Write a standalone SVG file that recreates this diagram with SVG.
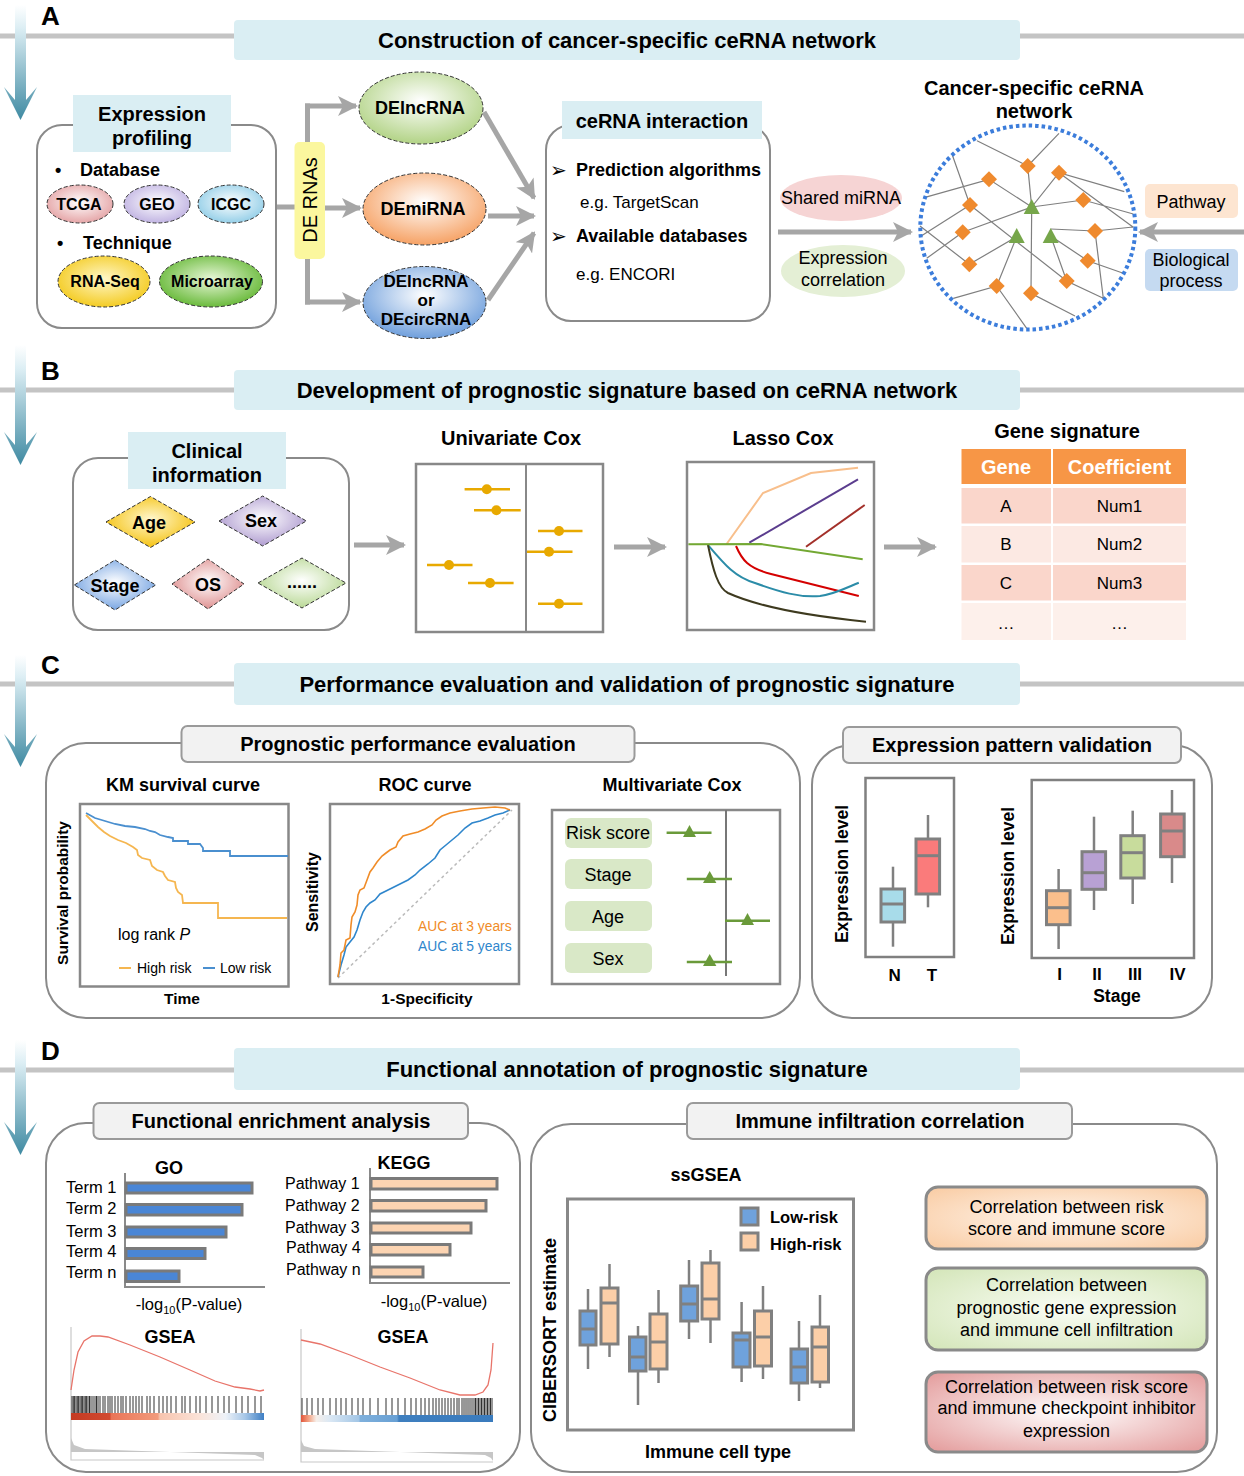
<svg xmlns="http://www.w3.org/2000/svg" width="1244" height="1476" viewBox="0 0 1244 1476">
<defs>
<style>
text{font-family:"Liberation Sans",Arial,"DejaVu Sans",sans-serif;fill:#000}
.b{font-weight:bold}
.m{text-anchor:middle}
.hl{stroke:#c4c4c4;stroke-width:5}
.hdr{fill:#daeef3}
.ht{font-size:22px;font-weight:bold;text-anchor:middle}
.pan{fill:#fff;stroke:#8a8a8a;stroke-width:2}
.gt{fill:#f2f2f2;stroke:#9a9a9a;stroke-width:2}
.arr{stroke:#a6a6a6;stroke-width:5;fill:none;marker-end:url(#ah)}
.cn{stroke:#a6a6a6;stroke-width:5;fill:none}
.el{stroke:#333;stroke-width:1;stroke-dasharray:4 2}
.fr{fill:#fff;stroke:#888;stroke-width:2.5}
.net{stroke:#7f7f7f;stroke-width:1.2;fill:none}
.bx{stroke:#808080;stroke-width:3}
.wh{stroke:#808080;stroke-width:2.5}
.dot{stroke:#e8a900;stroke-width:2.5}
.fp{stroke:#6a9a3a;stroke-width:2.5}
.ch{stroke:#a6a6a6;stroke-width:4;fill:none;marker-end:url(#ch)}
.bar{stroke:#7a7a7a;stroke-width:3}
.bc{stroke:#1a1a1a;stroke-width:0.9}
</style>
<marker id="ah" markerUnits="userSpaceOnUse" viewBox="0 0 20 20" markerWidth="20" markerHeight="20" refX="18" refY="10" orient="auto"><path d="M0,0 L20,10 L0,20 L5,10Z" fill="#a6a6a6"/></marker>
<marker id="ch" markerUnits="userSpaceOnUse" viewBox="0 0 14 20" markerWidth="14" markerHeight="20" refX="11" refY="10" orient="auto"><path d="M2,2 L11,10 L2,18" fill="none" stroke="#a6a6a6" stroke-width="3.5"/></marker>
<linearGradient id="va" x1="0" y1="0" x2="0" y2="1"><stop offset="0" stop-color="#ffffff"/><stop offset="0.2" stop-color="#dceef4"/><stop offset="1" stop-color="#3f8aa2"/></linearGradient>
<radialGradient id="gTC" cx="0.5" cy="0.45" r="0.6"><stop offset="0" stop-color="#fff"/><stop offset="1" stop-color="#e39ea0"/></radialGradient>
<radialGradient id="gGE" cx="0.5" cy="0.45" r="0.6"><stop offset="0" stop-color="#fff"/><stop offset="1" stop-color="#bcaee0"/></radialGradient>
<radialGradient id="gIC" cx="0.5" cy="0.45" r="0.6"><stop offset="0" stop-color="#fff"/><stop offset="1" stop-color="#8ccbe6"/></radialGradient>
<radialGradient id="gRS" cx="0.5" cy="0.45" r="0.6"><stop offset="0" stop-color="#fff7c8"/><stop offset="1" stop-color="#f3c815"/></radialGradient>
<radialGradient id="gMA" cx="0.5" cy="0.45" r="0.6"><stop offset="0" stop-color="#e8f7d8"/><stop offset="1" stop-color="#5fb52e"/></radialGradient>
<radialGradient id="gLN" cx="0.5" cy="0.4" r="0.6"><stop offset="0" stop-color="#fff"/><stop offset="1" stop-color="#b2d386"/></radialGradient>
<radialGradient id="gMI" cx="0.5" cy="0.4" r="0.6"><stop offset="0" stop-color="#fff"/><stop offset="1" stop-color="#f6a265"/></radialGradient>
<radialGradient id="gCI" cx="0.5" cy="0.4" r="0.6"><stop offset="0" stop-color="#fff"/><stop offset="1" stop-color="#6f9fdc"/></radialGradient>
<radialGradient id="dAg" cx="0.5" cy="0.45" r="0.6"><stop offset="0" stop-color="#fff8d0"/><stop offset="1" stop-color="#f4bd00"/></radialGradient>
<radialGradient id="dSx" cx="0.5" cy="0.45" r="0.6"><stop offset="0" stop-color="#fff"/><stop offset="1" stop-color="#a893cc"/></radialGradient>
<radialGradient id="dSt" cx="0.5" cy="0.45" r="0.6"><stop offset="0" stop-color="#fff"/><stop offset="1" stop-color="#6d9ee0"/></radialGradient>
<radialGradient id="dOS" cx="0.5" cy="0.45" r="0.6"><stop offset="0" stop-color="#fff"/><stop offset="1" stop-color="#dc8888"/></radialGradient>
<radialGradient id="dEt" cx="0.5" cy="0.45" r="0.6"><stop offset="0" stop-color="#fff"/><stop offset="1" stop-color="#b3d58c"/></radialGradient>
<radialGradient id="rP" cx="0.5" cy="0.5" r="0.7"><stop offset="0" stop-color="#fff6ee"/><stop offset="1" stop-color="#f9cba2"/></radialGradient>
<radialGradient id="rG" cx="0.5" cy="0.5" r="0.7"><stop offset="0" stop-color="#fafdf5"/><stop offset="1" stop-color="#d3e5b8"/></radialGradient>
<radialGradient id="rR" cx="0.5" cy="0.5" r="0.7"><stop offset="0" stop-color="#fff"/><stop offset="1" stop-color="#e39a9a"/></radialGradient>
<linearGradient id="hmL" x1="0" y1="0" x2="1" y2="0"><stop offset="0" stop-color="#c43a22"/><stop offset="0.2" stop-color="#d24a30"/><stop offset="0.21" stop-color="#ea7558"/><stop offset="0.45" stop-color="#f29b7c"/><stop offset="0.46" stop-color="#f7c4ae"/><stop offset="0.66" stop-color="#fbe2d7"/><stop offset="0.8" stop-color="#eef2f8"/><stop offset="0.9" stop-color="#a8c8e8"/><stop offset="1" stop-color="#3f7fc4"/></linearGradient>
<linearGradient id="hmR" x1="0" y1="0" x2="1" y2="0"><stop offset="0" stop-color="#e2553a"/><stop offset="0.04" stop-color="#f3a283"/><stop offset="0.08" stop-color="#f6efea"/><stop offset="0.15" stop-color="#dbe8f4"/><stop offset="0.3" stop-color="#a3c6e6"/><stop offset="0.31" stop-color="#7fb0dc"/><stop offset="0.5" stop-color="#68a0d4"/><stop offset="0.51" stop-color="#3f7fbf"/><stop offset="1" stop-color="#3a7bbd"/></linearGradient>
<path id="dm" d="M0,-8 L8,0 L0,8 L-8,0Z" fill="#ef8a2e"/>
<path id="tr" d="M0,-8 L8,7 L-8,7Z" fill="#76a64a"/>
</defs>

<rect width="1244" height="1476" fill="#fff"/>

<!-- section headers -->
<g id="headers">
<line class="hl" x1="0" y1="36" x2="1244" y2="36"/>
<rect class="hdr" x="234" y="20" width="786" height="40" rx="4"/>
<text class="ht" x="627" y="48">Construction of cancer-specific ceRNA network</text>
<line class="hl" x1="0" y1="390" x2="1244" y2="390"/>
<rect class="hdr" x="234" y="370" width="786" height="40" rx="4"/>
<text class="ht" x="627" y="398">Development of prognostic signature based on ceRNA network</text>
<line class="hl" x1="0" y1="684" x2="1244" y2="684"/>
<rect class="hdr" x="234" y="663" width="786" height="42" rx="4"/>
<text class="ht" x="627" y="692">Performance evaluation and validation of prognostic signature</text>
<line class="hl" x1="0" y1="1070" x2="1244" y2="1070"/>
<rect class="hdr" x="234" y="1048" width="786" height="42" rx="4"/>
<text class="ht" x="627" y="1077">Functional annotation of prognostic signature</text>
<text class="b" x="41" y="25" font-size="26">A</text>
<text class="b" x="41" y="380" font-size="26">B</text>
<text class="b" x="41" y="674" font-size="26">C</text>
<text class="b" x="41" y="1060" font-size="26">D</text>
<path d="M15,5 H26 V100 L37,87 L20.5,120 L4,87 L15,100Z" fill="url(#va)"/>
<path d="M15,345 H26 V445 L37,432 L20.5,465 L4,432 L15,445Z" fill="url(#va)"/>
<path d="M15,655 H26 V747 L37,734 L20.5,767 L4,734 L15,747Z" fill="url(#va)"/>
<path d="M15,1040 H26 V1135 L37,1122 L20.5,1155 L4,1122 L15,1135Z" fill="url(#va)"/>
</g>

<!-- connectors -->
<g id="connectors">
<path class="cn" d="M276,207 H307.5 M307.5,103.5 V304.5"/>
<path class="arr" d="M305,106 H356"/>
<path class="arr" d="M305,208 H360"/>
<path class="arr" d="M305,302 H360"/>
<path class="arr" d="M484,112 L534,198"/>
<path class="arr" d="M488,216 H534"/>
<path class="arr" d="M488,300 L534,233"/>
<path class="arr" d="M778,232 H911"/>
<path class="arr" d="M1244,232 H1140"/>
<path class="arr" d="M354,545 H404"/>
<path class="arr" d="M614,547 H665"/>
<path class="arr" d="M884,547 H935"/>
<path class="ch" d="M880,1215 H914"/>
<path class="ch" d="M880,1313 H914"/>
<path class="ch" d="M880,1408 H914"/>
</g>

<!-- A: expression profiling -->
<g id="expression-profiling">
<rect class="pan" x="37" y="125" width="239" height="203" rx="25"/>
<rect class="hdr" x="73" y="95" width="158" height="57"/>
<text class="b m" x="152" y="121" font-size="20">Expression</text>
<text class="b m" x="152" y="145" font-size="20">profiling</text>
<text class="b" x="55" y="176" font-size="18">•</text>
<text class="b" x="80" y="176" font-size="18">Database</text>
<ellipse class="el" cx="80" cy="204" rx="33" ry="19" fill="url(#gTC)"/>
<text class="b m" x="79" y="210" font-size="16">TCGA</text>
<ellipse class="el" cx="157" cy="204" rx="33" ry="19" fill="url(#gGE)"/>
<text class="b m" x="157" y="210" font-size="16">GEO</text>
<ellipse class="el" cx="231" cy="204" rx="33" ry="19" fill="url(#gIC)"/>
<text class="b m" x="231" y="210" font-size="16">ICGC</text>
<text class="b" x="57" y="249" font-size="18">•</text>
<text class="b" x="83" y="249" font-size="18">Technique</text>
<ellipse class="el" cx="104" cy="281.5" rx="46" ry="25.5" fill="url(#gRS)"/>
<text class="b m" x="105" y="287" font-size="16">RNA-Seq</text>
<ellipse class="el" cx="211" cy="281.5" rx="51.5" ry="25.5" fill="url(#gMA)"/>
<text class="b m" x="212" y="287" font-size="16">Microarray</text>
</g>

<g id="de-rnas">
<rect x="294.5" y="142" width="30.5" height="117" rx="5" fill="#fbf79e"/>
<text class="m" transform="translate(317,200) rotate(-90)" font-size="20">DE RNAs</text>
</g>

<g id="delncrna">
<ellipse class="el" cx="421" cy="108" rx="62" ry="36" fill="url(#gLN)"/>
<text class="b m" x="420" y="114" font-size="18">DElncRNA</text>
</g>
<g id="demirna">
<ellipse class="el" cx="424.5" cy="209" rx="61.5" ry="36" fill="url(#gMI)"/>
<text class="b m" x="423" y="215" font-size="18">DEmiRNA</text>
</g>
<g id="decircrna">
<ellipse class="el" cx="424.5" cy="302.5" rx="61.5" ry="36" fill="url(#gCI)"/>
<text class="b m" x="426" y="287" font-size="17">DElncRNA</text>
<text class="b m" x="426" y="306" font-size="17">or</text>
<text class="b m" x="426" y="325" font-size="17">DEcircRNA</text>
</g>

<g id="cerna-interaction">
<rect class="pan" x="546" y="125" width="224" height="196" rx="25"/>
<rect class="hdr" x="562" y="101" width="200" height="38"/>
<text class="b m" x="662" y="128" font-size="20">ceRNA interaction</text>
<text x="550" y="177" font-size="20">➢</text>
<text class="b" x="576" y="176" font-size="18">Prediction algorithms</text>
<text x="580" y="208" font-size="17">e.g. TargetScan</text>
<text x="550" y="243" font-size="20">➢</text>
<text class="b" x="576" y="242" font-size="18">Available databases</text>
<text x="576" y="280" font-size="17">e.g. ENCORI</text>
</g>

<g id="shared-mirna">
<ellipse cx="841" cy="198" rx="61" ry="23" fill="#f6d4d4"/>
<text class="m" x="841" y="204" font-size="18">Shared miRNA</text>
</g>
<g id="expression-correlation">
<ellipse cx="843" cy="271" rx="62" ry="26" fill="#e4efd5"/>
<text class="m" x="843" y="264" font-size="18">Expression</text>
<text class="m" x="843" y="286" font-size="18">correlation</text>
</g>

<g id="cerna-network">
<text class="b m" x="1034" y="95" font-size="20">Cancer-specific ceRNA</text>
<text class="b m" x="1034" y="118" font-size="20">network</text>
<path class="net" d="M977,140.7 L1027.7,166 M1059,133.3 L1027.7,166 L1031.7,207 M925,197.3 L989,179.3 L1031.7,207 L1059,172.7 L1124.3,191.7 M1059,172.7 L1133.3,227.3 M1031.7,207 L1083.3,200 L1133.3,214 M952.3,155 L970,205 L920,236.7 M970,205 L1066.7,281 M962.7,232.3 L1031.7,207 M962.7,232.3 L926.7,258.3 M920,226 L969.3,264.3 L1016.7,236.7 L996.7,286 L953.3,298.3 M996.7,286 L1026.7,328.3 M1031.7,207 L1031,293.3 L1075,316 M1050.7,229 L1095,231 L1133,227 M1095,231 L1103.3,298.3 M1050.7,236 L1087.7,260.7 L1123.3,273.3 M1050.7,236 L1066.7,281 L1103.3,298.3"/>
<use href="#dm" x="1027.7" y="166"/>
<use href="#dm" x="989" y="179.3"/>
<use href="#dm" x="1059" y="172.7"/>
<use href="#dm" x="970" y="205"/>
<use href="#dm" x="1083.3" y="200"/>
<use href="#dm" x="962.7" y="232.3"/>
<use href="#dm" x="1095" y="231"/>
<use href="#dm" x="969.3" y="264.3"/>
<use href="#dm" x="1087.7" y="260.7"/>
<use href="#dm" x="996.7" y="286"/>
<use href="#dm" x="1066.7" y="281"/>
<use href="#dm" x="1031" y="293.3"/>
<use href="#tr" x="1031.7" y="207"/>
<use href="#tr" x="1016.7" y="236"/>
<use href="#tr" x="1050.7" y="236"/>
<ellipse cx="1027.8" cy="227.5" rx="107.5" ry="102" fill="none" stroke="#3c7ddb" stroke-width="4" stroke-dasharray="3.5 3"/>
</g>

<g id="pathway">
<rect x="1145" y="184" width="93" height="34" rx="5" fill="#fde5d1"/>
<text class="m" x="1191" y="208" font-size="18">Pathway</text>
</g>
<g id="biological-process">
<rect x="1145" y="249" width="93" height="42" rx="5" fill="#c5daf1"/>
<text class="m" x="1191" y="266" font-size="18">Biological</text>
<text class="m" x="1191" y="287" font-size="18">process</text>
</g>

<!-- B -->
<g id="clinical-information">
<rect class="pan" x="73" y="458" width="276" height="172" rx="25"/>
<rect class="hdr" x="128" y="432" width="158" height="57"/>
<text class="b m" x="207" y="458" font-size="20">Clinical</text>
<text class="b m" x="207" y="482" font-size="20">information</text>
<polygon class="el" points="106,522 150.5,496.5 195,522 150.5,547.5" fill="url(#dAg)"/>
<text class="b m" x="149" y="529" font-size="18">Age</text>
<polygon class="el" points="219,521 262.7,496 306.4,521 262.7,546" fill="url(#dSx)"/>
<text class="b m" x="261" y="527" font-size="18">Sex</text>
<polygon class="el" points="74.3,585 115,560 155.7,585 115,610" fill="url(#dSt)"/>
<text class="b m" x="115" y="592" font-size="18">Stage</text>
<polygon class="el" points="172,584 208,559 244,584 208,609" fill="url(#dOS)"/>
<text class="b m" x="208" y="591" font-size="18">OS</text>
<polygon class="el" points="258,583 302,558 346,583 302,608" fill="url(#dEt)"/>
<text class="b m" x="302" y="588" font-size="18">......</text>
</g>

<g id="univariate-cox">
<text class="b m" x="511" y="445" font-size="20">Univariate Cox</text>
<rect class="fr" x="416" y="464" width="187" height="168"/>
<line x1="526" y1="464" x2="526" y2="632" stroke="#888" stroke-width="2"/>
<g class="dot">
<line x1="464.6" y1="489.3" x2="510" y2="489.3"/>
<line x1="474" y1="510.3" x2="520.7" y2="510.3"/>
<line x1="538" y1="531" x2="582.5" y2="531"/>
<line x1="527" y1="551.7" x2="572.5" y2="551.7"/>
<line x1="427" y1="565" x2="472.5" y2="565"/>
<line x1="468" y1="583" x2="513.6" y2="583"/>
<line x1="538" y1="603.7" x2="582.5" y2="603.7"/>
</g>
<g fill="#e8a900">
<circle cx="486.8" cy="489.3" r="5"/>
<circle cx="496.4" cy="510.3" r="5"/>
<circle cx="559" cy="531" r="5"/>
<circle cx="549" cy="551.7" r="5"/>
<circle cx="449" cy="565" r="5"/>
<circle cx="490" cy="583" r="5"/>
<circle cx="559" cy="603.7" r="5"/>
</g>
</g>

<g id="lasso-cox">
<text class="b m" x="783" y="445" font-size="20">Lasso Cox</text>
<rect class="fr" x="687" y="462" width="187" height="168"/>
<g fill="none" stroke-width="2">
<polyline stroke="#f8bf8c" points="726.6,544 763,493 811,473 858,467.7"/>
<polyline stroke="#5b3d8e" points="749.3,542.7 858,479.3"/>
<polyline stroke="#a3302a" points="806,546.7 864.7,505"/>
<path stroke="#d40000" d="M736,546 C742,560 748,568 771,574 L858.8,596"/>
<path stroke="#2b8ca8" d="M708,545 C725,565 735,577 755,583 C780,592 800,598 820,596 C835,594 848,587 858.8,582.7"/>
<path stroke="#3e3a1f" d="M708,545 C713,570 718,588 728,593 C750,603 790,614 866,621.7"/>
<polyline stroke="#73a833" points="688.4,544.3 761,544 862.7,559.3"/>
</g>
</g>

<g id="gene-signature">
<text class="b m" x="1067" y="438" font-size="20">Gene signature</text>
<rect x="961.5" y="449" width="89.5" height="35" fill="#f79646"/>
<rect x="1053" y="449" width="133" height="35" fill="#f79646"/>
<text class="b m" x="1006" y="474" font-size="20" style="fill:#fff">Gene</text>
<text class="b m" x="1119.5" y="474" font-size="20" style="fill:#fff">Coefficient</text>
<rect x="961.5" y="488" width="89.5" height="35.5" fill="#fad6cb"/>
<rect x="1053" y="488" width="133" height="35.5" fill="#fad6cb"/>
<rect x="961.5" y="526" width="89.5" height="36.5" fill="#fce9e3"/>
<rect x="1053" y="526" width="133" height="36.5" fill="#fce9e3"/>
<rect x="961.5" y="565" width="89.5" height="35.5" fill="#fad6cb"/>
<rect x="1053" y="565" width="133" height="35.5" fill="#fad6cb"/>
<rect x="961.5" y="603" width="89.5" height="37" fill="#fdf0eb"/>
<rect x="1053" y="603" width="133" height="37" fill="#fdf0eb"/>
<text class="m" x="1006" y="512" font-size="17">A</text>
<text class="m" x="1119.5" y="512" font-size="17">Num1</text>
<text class="m" x="1006" y="550" font-size="17">B</text>
<text class="m" x="1119.5" y="550" font-size="17">Num2</text>
<text class="m" x="1006" y="589" font-size="17">C</text>
<text class="m" x="1119.5" y="589" font-size="17">Num3</text>
<text class="m" x="1006" y="629" font-size="17">…</text>
<text class="m" x="1119.5" y="629" font-size="17">…</text>
</g>

<!-- C -->
<g id="prognostic-performance">
<rect class="pan" x="46" y="743" width="754" height="275" rx="40"/>
<rect class="gt" x="181.5" y="726" width="453" height="36" rx="6"/>
<text class="b m" x="408" y="751" font-size="20">Prognostic performance evaluation</text>

<text class="b m" x="183" y="791" font-size="18">KM survival curve</text>
<rect class="fr" x="80" y="804" width="208.5" height="182.5"/>
<text class="b m" transform="translate(68,893) rotate(-90)" font-size="15.5">Survival probability</text>
<text class="b m" x="182" y="1004" font-size="15.5">Time</text>
<polyline fill="none" stroke="#4a8fcf" stroke-width="1.8" points="86,813 95,818 105,821 115,824 125,826 135,827 145,829 150,831 155,832 160,835 168,837 173,838 173,841 188,841 188,844 200,844 203,848 203,851 230,851 230,856 288,856"/>
<polyline fill="none" stroke="#f5b650" stroke-width="1.8" points="86,815 92,821 98,827 104,832 110,836 118,840 126,843 133,847 137,850 138,855 142,858 150,860 152,866 157,870 163,872 165,876 168,880 175,882 176,888 178,892 182,895 183,903 218,903 218,918 287,918"/>
<text x="118" y="940" font-size="16">log rank <tspan font-style="italic">P</tspan></text>
<line x1="119" y1="968" x2="131" y2="968" stroke="#f5b650" stroke-width="2"/>
<text x="137" y="973" font-size="14">High risk</text>
<line x1="203" y1="968" x2="215" y2="968" stroke="#4a8fcf" stroke-width="2"/>
<text x="220" y="973" font-size="14">Low risk</text>

<text class="b m" x="425" y="791" font-size="18">ROC curve</text>
<rect class="fr" x="330" y="804" width="189" height="180"/>
<text class="b m" transform="translate(318,892) rotate(-90)" font-size="16">Sensitivity</text>
<text class="b m" x="427" y="1004" font-size="15.5">1-Specificity</text>
<line x1="338" y1="978" x2="512" y2="810" stroke="#bbb" stroke-width="1.5" stroke-dasharray="3 3"/>
<polyline fill="none" stroke="#2f86cc" stroke-width="1.6" points="338,977 341,965 344,955 346,947 350,942 354,937 357,930 360,920 363,912 366,907 370,903 375,900 380,894 386,891 392,888 400,884 408,880 415,875 420,870 428,864 435,858 440,850 446,845 452,840 458,835 465,828 472,823 480,821 488,818 495,815 503,813 510,810"/>
<polyline fill="none" stroke="#f08c28" stroke-width="1.6" points="338,977 340,965 341,953 344,950 346,940 350,938 351,925 352,917 355,912 357,905 358,895 360,890 364,888 367,880 370,872 373,868 377,862 382,856 386,853 390,850 396,847 398,842 403,836 410,834 418,832 425,829 432,825 436,820 442,816 450,813 460,811 472,809 483,808 495,807 505,808 510,810"/>
<text x="418" y="931" font-size="13.8" style="fill:#f08c28">AUC at 3 years</text>
<text x="418" y="951" font-size="13.8" style="fill:#2f86cc">AUC at 5 years</text>

<text class="b m" x="672" y="791" font-size="18">Multivariate Cox</text>
<rect class="fr" x="552" y="810" width="228" height="174"/>
<rect x="565" y="818" width="87" height="30" rx="6" fill="#d9e8c7"/>
<rect x="565" y="859" width="87" height="30" rx="6" fill="#d9e8c7"/>
<rect x="565" y="901" width="87" height="30" rx="6" fill="#d9e8c7"/>
<rect x="565" y="943" width="87" height="30" rx="6" fill="#d9e8c7"/>
<text class="m" x="608" y="839" font-size="18">Risk score</text>
<text class="m" x="608" y="881" font-size="18">Stage</text>
<text class="m" x="608" y="923" font-size="18">Age</text>
<text class="m" x="608" y="965" font-size="18">Sex</text>
<line x1="726" y1="810" x2="726" y2="976" stroke="#777" stroke-width="2"/>
<g class="fp">
<line x1="666.6" y1="832.7" x2="711.5" y2="832.7"/>
<line x1="686.8" y1="879" x2="732" y2="879"/>
<line x1="725" y1="920.7" x2="770" y2="920.7"/>
<line x1="686.8" y1="962" x2="732" y2="962"/>
</g>
<g fill="#6a9a3a">
<path d="M683,837 L689.5,825 L696,837Z"/>
<path d="M703,883 L709.7,871 L716.4,883Z"/>
<path d="M741,925 L747.5,913 L754,925Z"/>
<path d="M703,966 L709.7,954 L716.4,966Z"/>
</g>
</g>

<g id="expression-pattern-validation">
<rect class="pan" x="812" y="745" width="400" height="273" rx="40"/>
<rect class="gt" x="843" y="727" width="338" height="36" rx="6"/>
<text class="b m" x="1012" y="752" font-size="20">Expression pattern validation</text>
<rect x="865.5" y="778" width="88.5" height="179" fill="none" stroke="#808080" stroke-width="2.5"/>
<rect x="1031.7" y="780" width="162.3" height="178" fill="none" stroke="#808080" stroke-width="2.5"/>
<text class="b m" transform="translate(848,874) rotate(-90)" font-size="17.5">Expression level</text>
<text class="b m" transform="translate(1014,876) rotate(-90)" font-size="17.5">Expression level</text>
<g class="wh">
<line x1="893" y1="866.7" x2="893" y2="946.7"/>
<line x1="928" y1="815" x2="928" y2="907.3"/>
<line x1="1058.6" y1="869" x2="1058.6" y2="949"/>
<line x1="1094" y1="816.7" x2="1094" y2="910"/>
<line x1="1132.7" y1="810.7" x2="1132.7" y2="904"/>
<line x1="1172" y1="790" x2="1172" y2="883"/>
</g>
<g class="bx">
<rect x="881" y="889" width="23.6" height="33" fill="#a8dcea"/>
<line x1="881" y1="904" x2="904.6" y2="904"/>
<rect x="916" y="839" width="23.6" height="55" fill="#fa7b7b"/>
<line x1="916" y1="855.7" x2="939.6" y2="855.7"/>
<rect x="1046.5" y="890.7" width="23.6" height="34" fill="#fbbf8c"/>
<line x1="1046.5" y1="907.7" x2="1070.1" y2="907.7"/>
<rect x="1082" y="851.7" width="23.6" height="37.6" fill="#b8a1d4"/>
<line x1="1082" y1="872.7" x2="1105.6" y2="872.7"/>
<rect x="1120.8" y="835.7" width="23.4" height="42.3" fill="#c8dc9c"/>
<line x1="1120.8" y1="852.7" x2="1144.2" y2="852.7"/>
<rect x="1160.6" y="814" width="23.6" height="42.7" fill="#d98a8a"/>
<line x1="1160.6" y1="831" x2="1184.2" y2="831"/>
</g>
<text class="b m" x="894.7" y="981" font-size="17">N</text>
<text class="b m" x="932" y="981" font-size="17">T</text>
<text class="b m" x="1059.5" y="980" font-size="17">I</text>
<text class="b m" x="1097" y="980" font-size="17">II</text>
<text class="b m" x="1135" y="980" font-size="17">III</text>
<text class="b m" x="1177.6" y="980" font-size="17">IV</text>
<text class="b m" x="1117" y="1002" font-size="17.5">Stage</text>
</g>

<!-- D -->
<g id="functional-enrichment">
<rect class="pan" x="46" y="1123" width="474" height="349" rx="40"/>
<rect class="gt" x="93.5" y="1103" width="374.5" height="36" rx="6"/>
<text class="b m" x="281" y="1128" font-size="20">Functional enrichment analysis</text>

<text class="b m" x="169" y="1174" font-size="18">GO</text>
<path d="M125,1173 V1287 H265" fill="none" stroke="#8a8a8a" stroke-width="2"/>
<g class="bar" fill="#4a86d6">
<rect x="126" y="1183" width="126" height="10"/>
<rect x="126" y="1204.5" width="116" height="10.5"/>
<rect x="126" y="1227" width="100" height="10"/>
<rect x="126" y="1248.5" width="79" height="10"/>
<rect x="126" y="1271" width="53" height="10.5"/>
</g>
<text x="66" y="1193" font-size="16.5">Term 1</text>
<text x="66" y="1214" font-size="16.5">Term 2</text>
<text x="66" y="1237" font-size="16.5">Term 3</text>
<text x="66" y="1257" font-size="16.5">Term 4</text>
<text x="66" y="1278" font-size="16.5">Term n</text>
<text class="m" x="189" y="1310" font-size="16.5">-log<tspan font-size="11" dy="4">10</tspan><tspan dy="-4">(P-value)</tspan></text>

<text class="b m" x="404" y="1169" font-size="18">KEGG</text>
<path d="M370,1168 V1283 H510" fill="none" stroke="#8a8a8a" stroke-width="2"/>
<g class="bar" fill="#fcd4b2">
<rect x="371" y="1178.5" width="126" height="10.5"/>
<rect x="371" y="1200.5" width="115" height="10.5"/>
<rect x="371" y="1223" width="100" height="10"/>
<rect x="371" y="1244.5" width="79" height="10.5"/>
<rect x="371" y="1267" width="52" height="10"/>
</g>
<text x="285" y="1189" font-size="16">Pathway 1</text>
<text x="285" y="1211" font-size="16">Pathway 2</text>
<text x="285" y="1233" font-size="16">Pathway 3</text>
<text x="286" y="1253" font-size="16">Pathway 4</text>
<text x="286" y="1275" font-size="16">Pathway n</text>
<text class="m" x="434" y="1307" font-size="16.5">-log<tspan font-size="11" dy="4">10</tspan><tspan dy="-4">(P-value)</tspan></text>

<text class="b m" x="170" y="1343" font-size="18">GSEA</text>
<path d="M71,1327 V1460 H264" fill="none" stroke="#c8c8c8" stroke-width="1.2"/>
<polyline fill="none" stroke="#e8746a" stroke-width="1.3" points="71,1390 74,1370 78,1352 84,1341 92,1336 100,1336 108,1337 130,1345 160,1357 190,1370 215,1381 235,1387 250,1389 260,1391 264,1390"/>
<path class="bc" d="M72,1396v17M73.3,1396v17M74.6,1396v17M76,1396v17M77.3,1396v17M78.6,1396v17M80,1396v17M81.3,1396v17M82.6,1396v17M84,1396v17M85.3,1396v17M86.6,1396v17M88,1396v17M89.5,1396v17M91,1396v17M93,1396v17M95,1396v17M96.5,1396v17M98,1396v17M100,1396v17M103,1396v17M105,1396v17M108,1396v17M110,1396v17M112,1396v17M115,1396v17M118,1396v17M121,1396v17M123,1396v17M126,1396v17M130,1396v17M133,1396v17M136,1396v17M139,1396v17M142,1396v17M147,1396v17M150,1396v17M154,1396v17M159,1396v17M163,1396v17M167,1396v17M171,1396v17M176,1396v17M182,1396v17M185,1396v17M190,1396v17M196,1396v17M200,1396v17M206,1396v17M212,1396v17M218,1396v17M224,1396v17M229,1396v17M236,1396v17M242,1396v17M248,1396v17M255,1396v17M261,1396v17"/>
<rect x="71" y="1413" width="193" height="7" fill="url(#hmL)"/>
<polygon fill="#c6c6c6" points="71,1452 71,1438 74,1445 85,1449 170,1452 255,1455 262,1458 264,1460 264,1452"/>

<text class="b m" x="403" y="1343" font-size="18">GSEA</text>
<path d="M301,1329 V1462 H493" fill="none" stroke="#c8c8c8" stroke-width="1.2"/>
<polyline fill="none" stroke="#e8746a" stroke-width="1.3" points="301,1340 320,1344 350,1355 380,1367 410,1378 440,1390 460,1395 475,1395 483,1392 488,1385 491,1370 493,1343"/>
<path class="bc" d="M302,1398v17M307,1398v17M312,1398v17M318,1398v17M323,1398v17M330,1398v17M336,1398v17M341,1398v17M346,1398v17M352,1398v17M358,1398v17M363,1398v17M370,1398v17M378,1398v17M386,1398v17M392,1398v17M398,1398v17M405,1398v17M411,1398v17M416,1398v17M421,1398v17M425,1398v17M429,1398v17M433,1398v17M436,1398v17M439,1398v17M442,1398v17M445,1398v17M448,1398v17M451,1398v17M454,1398v17M457,1398v17M459,1398v17M462,1398v17M464,1398v17M466,1398v17M468,1398v17M470,1398v17M472,1398v17M474,1398v17M475.5,1398v17M477,1398v17M478.5,1398v17M480,1398v17M481.5,1398v17M483,1398v17M484.5,1398v17M486,1398v17M487.5,1398v17M489,1398v17M490.5,1398v17M492,1398v17"/>
<rect x="301" y="1415" width="192" height="7" fill="url(#hmR)"/>
<polygon fill="#c6c6c6" points="301,1452 301,1440 304,1446 315,1449 400,1452 485,1455 491,1458 493,1461 493,1452"/>
</g>

<g id="immune-infiltration">
<rect class="pan" x="531" y="1124" width="686" height="348" rx="40"/>
<rect class="gt" x="687" y="1103" width="385" height="36" rx="6"/>
<text class="b m" x="880" y="1128" font-size="20">Immune infiltration correlation</text>
<text class="b m" x="706" y="1181" font-size="18">ssGSEA</text>
<rect x="567.5" y="1199" width="286" height="231" fill="#fff" stroke="#888" stroke-width="3"/>
<text class="b m" transform="translate(556,1330) rotate(-90)" font-size="18">CIBERSORT estimate</text>
<text class="b m" x="718" y="1458" font-size="18">Immune cell type</text>
<rect class="bx" x="741" y="1208" width="17" height="17" fill="#6fa2dc"/>
<rect class="bx" x="741" y="1233" width="17" height="17" fill="#fccfa8"/>
<text class="b" x="770" y="1223" font-size="16.5">Low-risk</text>
<text class="b" x="770" y="1250" font-size="16.5">High-risk</text>
<g class="wh">
<line x1="588" y1="1289" x2="588" y2="1369"/>
<line x1="609.5" y1="1264" x2="609.5" y2="1357"/>
<line x1="638" y1="1326" x2="638" y2="1405"/>
<line x1="658.5" y1="1290" x2="658.5" y2="1383"/>
<line x1="689" y1="1260" x2="689" y2="1339"/>
<line x1="710.5" y1="1250" x2="710.5" y2="1343"/>
<line x1="741.6" y1="1302" x2="741.6" y2="1382"/>
<line x1="763" y1="1286" x2="763" y2="1379"/>
<line x1="799" y1="1321" x2="799" y2="1401"/>
<line x1="820" y1="1295" x2="820" y2="1388"/>
</g>
<g class="bx">
<rect x="580" y="1311" width="16" height="34" fill="#6fa2dc"/>
<line x1="580" y1="1329" x2="596" y2="1329"/>
<rect x="601" y="1288" width="17" height="56" fill="#fccfa8"/>
<line x1="601" y1="1303" x2="618" y2="1303"/>
<rect x="629.5" y="1337" width="16.5" height="34" fill="#6fa2dc"/>
<line x1="629.5" y1="1357" x2="646" y2="1357"/>
<rect x="650" y="1314" width="17" height="55" fill="#fccfa8"/>
<line x1="650" y1="1342" x2="667" y2="1342"/>
<rect x="680.7" y="1286" width="17" height="35" fill="#6fa2dc"/>
<line x1="680.7" y1="1304" x2="697.7" y2="1304"/>
<rect x="702" y="1263" width="17" height="56" fill="#fccfa8"/>
<line x1="702" y1="1299" x2="719" y2="1299"/>
<rect x="733" y="1333" width="17" height="34" fill="#6fa2dc"/>
<line x1="733" y1="1340" x2="750" y2="1340"/>
<rect x="754.5" y="1311" width="17" height="55" fill="#fccfa8"/>
<line x1="754.5" y1="1337" x2="771.5" y2="1337"/>
<rect x="791" y="1349" width="16.6" height="34" fill="#6fa2dc"/>
<line x1="791" y1="1367" x2="807.6" y2="1367"/>
<rect x="812" y="1327" width="16.5" height="55" fill="#fccfa8"/>
<line x1="812" y1="1347" x2="828.5" y2="1347"/>
</g>
</g>

<g id="corr-immune-score">
<rect x="926" y="1187" width="281" height="62" rx="12" fill="url(#rP)" stroke="#8a8a8a" stroke-width="3"/>
<text class="m" x="1066.5" y="1213" font-size="18">Correlation between risk</text>
<text class="m" x="1066.5" y="1235" font-size="18">score and immune score</text>
</g>
<g id="corr-gene-infiltration">
<rect x="926" y="1268" width="281" height="82" rx="12" fill="url(#rG)" stroke="#8a8a8a" stroke-width="3"/>
<text class="m" x="1066.5" y="1291" font-size="18">Correlation between</text>
<text class="m" x="1066.5" y="1314" font-size="18">prognostic gene expression</text>
<text class="m" x="1066.5" y="1336" font-size="18">and immune cell infiltration</text>
</g>
<g id="corr-checkpoint">
<rect x="926" y="1372" width="281" height="80" rx="12" fill="url(#rR)" stroke="#8a8a8a" stroke-width="3"/>
<text class="m" x="1066.5" y="1393" font-size="18">Correlation between risk score</text>
<text class="m" x="1066.5" y="1414" font-size="18">and immune checkpoint inhibitor</text>
<text class="m" x="1066.5" y="1437" font-size="18">expression</text>
</g>
</svg>
